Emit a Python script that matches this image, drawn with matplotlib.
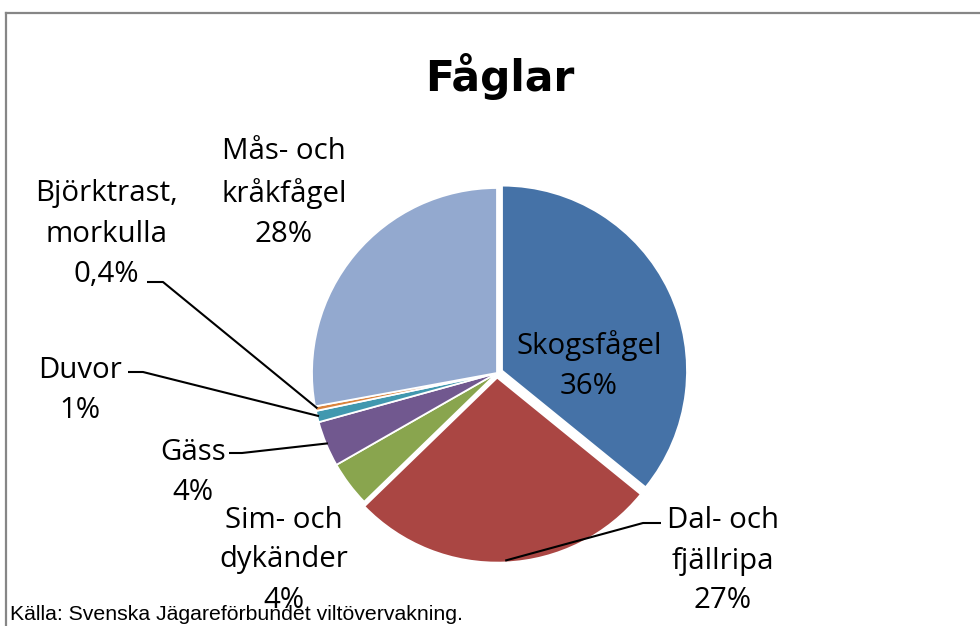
import matplotlib
matplotlib.use("Agg")
import matplotlib.pyplot as plt
import numpy as np
from matplotlib.lines import Line2D

# ---- data ----
categories = ["Skogsfågel", "Dal- och\nfjällripa", "Sim- och\ndykänder", "Gäss",
              "Duvor", "Björktrast,\nmorkulla", "Mås- och\nkråkfågel"]
values = [36, 27, 4, 4, 1, 0.4, 28]
colors = ["#4572A7", "#AA4643", "#89A54E", "#71588F", "#4198AF", "#DB843D", "#93A9CF"]
title = "Fåglar"
source = "Källa: Svenska Jägareförbundet viltövervakning."

W, H = 980, 626
CX, CY, R = 497, 373, 185  # pie center / radius in pixels

fig = plt.figure(figsize=(W / 100, H / 100), dpi=100)
ax = fig.add_axes([0, 0, 1, 1])


def px(x, y):
    return ((x - CX) / R, (CY - y) / R)


explode = [0.03, 0.025, 0, 0, 0, 0, 0]
wedges, _ = ax.pie(values, colors=colors, startangle=90, counterclock=False,
                   explode=explode, radius=1.0,
                   wedgeprops=dict(edgecolor="white", linewidth=1.3))
ax.set_aspect("auto")
ax.set_xlim(-CX / R, (W - CX) / R)
ax.set_ylim(-(H - CY) / R, CY / R)
ax.axis("off")

labfont = dict(family=["Open Sans", "DejaVu Sans"], fontsize=21.2, color="black",
               ha="center", va="center", linespacing=1.5)


def pct(v):
    return f"{v:g}%".replace(".", ",")


# label centers (pixels)
label_pos = [(589, 366), (723, 561), (284, 560), (193, 472), (80, 390), (106, 234), (284, 193)]
for name, v, (lx, ly) in zip(categories, values, label_pos):
    ax.text(*px(lx, ly), f"{name}\n{pct(v)}", **labfont)


# leader lines: (text-side start, elbow) in pixels, end on wedge edge
def edge_point(i, r=0.99):
    w = wedges[i]
    ang = np.deg2rad((w.theta1 + w.theta2) / 2)
    cx, cy = w.center
    return cx + r * np.cos(ang), cy + r * np.sin(ang)


leaders = {1: [(661, 523), (643, 523)],
           3: [(229, 453), (242, 453)],
           4: [(128, 372), (143, 372)],
           5: [(147, 282), (163, 282)]}
for i, pts in leaders.items():
    xs = [px(*p)[0] for p in pts]
    ys = [px(*p)[1] for p in pts]
    ex, ey = edge_point(i)
    xs.append(ex)
    ys.append(ey)
    ax.plot(xs, ys, color="black", lw=1.5, solid_capstyle="butt")

# title
fig.text(500 / W, 1 - 91 / H, title, ha="center", va="baseline",
         fontsize=30.5, fontweight="bold", family=["DejaVu Sans"])

# source note
fig.text(10 / W, 1 - 620 / H, source, ha="left", va="baseline",
         fontsize=15.3, family=["Liberation Sans", "DejaVu Sans"])

# chart-area border (top and left only visible)
bc = "#868686"
fig.add_artist(Line2D([6 / W, 1.01], [1 - 13 / H, 1 - 13 / H], color=bc, lw=1.6,
                      transform=fig.transFigure))
fig.add_artist(Line2D([6 / W, 6 / W], [1 - 13 / H, -0.01], color=bc, lw=1.6,
                      transform=fig.transFigure))

fig.savefig("out.png", dpi=100)
